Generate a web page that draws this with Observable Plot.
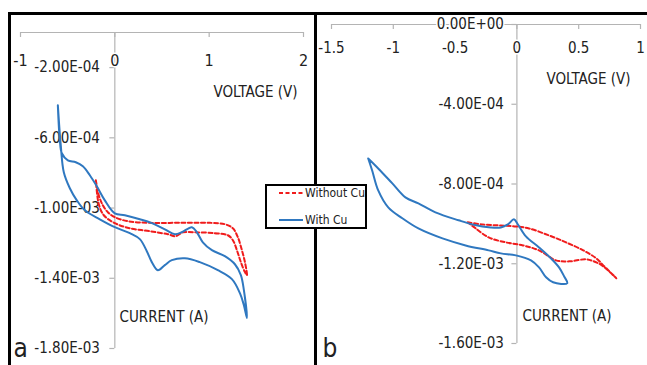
<!DOCTYPE html>
<html><head><meta charset="utf-8">
<script src="https://cdn.jsdelivr.net/npm/d3@7"></script>
<script src="https://cdn.jsdelivr.net/npm/@observablehq/plot@0.6"></script>
<style>
html,body{margin:0;padding:0;background:#fff;}
#fig{position:relative;width:647px;height:365px;overflow:hidden;background:#fff;}
#frame{position:absolute;left:8px;top:12px;width:700px;height:400px;border-left:3px solid #000;border-top:3px solid #000;box-sizing:border-box;}
#divider{position:absolute;left:314px;top:12px;width:3px;height:400px;background:#000;}
.panel{position:absolute;top:12px;}
#legend{position:absolute;left:265px;top:184px;width:102px;height:45px;border:2px solid #000;background:#fff;box-sizing:border-box;}
</style>
</head><body>
<div id="fig">
  <div id="frame"></div>
  <div id="divider"></div>
  <div id="pa" class="panel" style="left:8px"></div>
  <div id="pb" class="panel" style="left:316px"></div>
  <div id="legend"></div>
</div>
<script>
const FONT = '"Liberation Sans Narrow","DejaVu Sans Condensed","Liberation Sans",sans-serif';
const AXIS = "#b4b4b4";
const TEXT = "#222";
const RED = "#f01c1c";
const BLUE = "#2f78c0";

const seriesNames = ["Without Cu", "With Cu"];
const seriesColors = [RED, BLUE];
const panelLetters = ["a", "b"];
const xTitle = "VOLTAGE (V)";
const yTitle = "CURRENT (A)";

// Panel a axes
const aXTicks = [-1, 0, 1, 2];
const aXLabels = ["-1", "0", "1", "2"];
const aYTicks = [-2e-4, -6e-4, -1e-3, -1.4e-3, -1.8e-3];
const aYLabels = ["-2.00E-04", "-6.00E-04", "-1.00E-03", "-1.40E-03", "-1.80E-03"];

// Panel b axes
const bXTicks = [-1.5, -1, -0.5, 0, 0.5, 1];
const bXLabels = ["-1.5", "-1", "-0.5", "0", "0.5", "1"];
const bYTicks = [0, -4e-4, -8e-4, -1.2e-3, -1.6e-3];
const bYLabels = ["0.00E+00", "-4.00E-04", "-8.00E-04", "-1.20E-03", "-1.60E-03"];

// Panel a, With Cu (voltage V, current A)
const aWithV = [-0.604,-0.583,-0.562,-0.498,-0.414,-0.339,-0.265,-0.191,-0.106,0,0.106,0.265,0.392,0.530,0.636,0.710,0.817,0.870,0.933,1.029,1.166,1.273,1.336,1.368,1.400,
  1.368,1.326,1.241,1.092,0.901,0.742,0.604,0.530,0.456,0.392,0.339,0.265,0.159,0,-0.159,-0.318,-0.403,-0.477,-0.541,-0.573,-0.604];
const aWithI = [-4.15e-4,-6.14e-4,-6.88e-4,-7.28e-4,-7.39e-4,-7.62e-4,-8.13e-4,-8.76e-4,-9.56e-4,-1.030e-3,-1.041e-3,-1.064e-3,-1.086e-3,-1.121e-3,-1.149e-3,-1.138e-3,-1.109e-3,-1.138e-3,-1.195e-3,-1.240e-3,-1.274e-3,-1.320e-3,-1.382e-3,-1.468e-3,-1.627e-3,
  -1.553e-3,-1.485e-3,-1.405e-3,-1.354e-3,-1.308e-3,-1.286e-3,-1.297e-3,-1.325e-3,-1.354e-3,-1.308e-3,-1.246e-3,-1.177e-3,-1.143e-3,-1.109e-3,-1.064e-3,-1.013e-3,-9.56e-4,-8.87e-4,-7.96e-4,-6.43e-4,-4.15e-4];

// Panel a, Without Cu
const aWithoutV = [-0.201,-0.170,-0.127,-0.074,0,0.138,0.371,0.689,1.007,1.166,1.251,1.304,1.347,1.379,1.400,
  1.379,1.336,1.294,1.251,1.198,1.060,0.848,0.721,0.647,0.562,0.371,0.159,0,-0.117,-0.170,-0.201];
const aWithoutI = [-8.42e-4,-9.27e-4,-9.84e-4,-1.024e-3,-1.052e-3,-1.075e-3,-1.084e-3,-1.084e-3,-1.084e-3,-1.092e-3,-1.115e-3,-1.166e-3,-1.240e-3,-1.308e-3,-1.382e-3,
  -1.365e-3,-1.308e-3,-1.240e-3,-1.183e-3,-1.155e-3,-1.143e-3,-1.138e-3,-1.138e-3,-1.160e-3,-1.149e-3,-1.132e-3,-1.115e-3,-1.086e-3,-1.041e-3,-9.78e-4,-8.42e-4];

// Panel b, With Cu
const bWithV = [-1.203,-1.122,-1.008,-0.902,-0.797,-0.659,-0.472,-0.358,-0.211,-0.130,-0.073,-0.024,0.008,0.073,0.179,0.276,0.341,0.382,0.407,
  0.293,0.236,0.179,0.114,-0.008,-0.130,-0.228,-0.415,-0.602,-0.797,-0.927,-1.041,-1.122,-1.171,-1.203];
const bWithI = [-6.72e-4,-7.22e-4,-7.97e-4,-8.67e-4,-8.97e-4,-9.42e-4,-9.82e-4,-1.003e-3,-1.018e-3,-1.018e-3,-1.003e-3,-9.77e-4,-1.003e-3,-1.063e-3,-1.118e-3,-1.173e-3,-1.218e-3,-1.263e-3,-1.298e-3,
  -1.293e-3,-1.268e-3,-1.218e-3,-1.183e-3,-1.158e-3,-1.148e-3,-1.133e-3,-1.108e-3,-1.073e-3,-1.023e-3,-9.72e-4,-9.17e-4,-8.32e-4,-7.32e-4,-6.72e-4];

// Panel b, Without Cu
const bWithoutV = [-0.398,-0.276,-0.130,-0.008,0.098,0.260,0.398,0.537,0.642,0.699,0.748,0.805,
  0.699,0.642,0.561,0.423,0.317,0.179,0.049,-0.089,-0.228,-0.333,-0.398];
const bWithoutI = [-9.92e-4,-1.003e-3,-1.008e-3,-1.013e-3,-1.023e-3,-1.058e-3,-1.093e-3,-1.133e-3,-1.173e-3,-1.208e-3,-1.238e-3,-1.273e-3,
  -1.213e-3,-1.193e-3,-1.178e-3,-1.188e-3,-1.183e-3,-1.133e-3,-1.108e-3,-1.093e-3,-1.068e-3,-1.023e-3,-9.92e-4];

const toRows = (V, I) => V.map((v, k) => ({v, i: I[k]}));

function makePanel(o) {
  const halo = {stroke: "white", strokeWidth: 3, fill: TEXT, fontFamily: FONT};
  const marks = [
    Plot.ruleY([0], {stroke: AXIS, strokeWidth: 1.2}),
    Plot.ruleX([0], {stroke: AXIS, strokeWidth: 1.2}),
    Plot.ruleX(o.xTicks, {x: d => d, y1: d => 0, y2: d => 0, insetBottom: -5, stroke: AXIS, strokeWidth: 1.2}),
    Plot.ruleY(o.yTicks, {y: d => d, x1: d => 0, x2: d => 0, insetLeft: -5, stroke: AXIS, strokeWidth: 1.2}),
    Plot.text(o.xTicks, {x: d => d, y: d => 0, text: (d, k) => o.xLabels[k], dy: o.xDy, fontSize: o.xFont, lineAnchor: "middle", ...halo}),
    Plot.text(o.yTicks, {x: d => 0, y: d => d, text: (d, k) => o.yLabels[k], dx: o.yDx, textAnchor: "end", fontSize: 15, lineAnchor: "middle", ...halo}),
    Plot.text([xTitle], {frameAnchor: "top-left", textAnchor: "start", lineAnchor: "middle", dx: o.xtDx, dy: o.xtDy, fontSize: 15, fill: TEXT, fontFamily: FONT}),
    Plot.text([yTitle], {frameAnchor: "top-left", textAnchor: "start", lineAnchor: "middle", dx: o.ytDx, dy: o.ytDy, fontSize: 15, fill: TEXT, fontFamily: FONT}),
    Plot.text([o.letter], {frameAnchor: "top-left", textAnchor: "start", lineAnchor: "middle", dx: o.lDx, dy: o.lDy, fontSize: 26, fill: TEXT, fontFamily: FONT}),
    Plot.line(o.without, {x: "v", y: "i", stroke: RED, strokeWidth: 2, strokeDasharray: "4,2.5", curve: "catmull-rom"}),
    Plot.line(o.withCu, {x: "v", y: "i", stroke: BLUE, strokeWidth: 2, curve: "catmull-rom"})
  ];
  return Plot.plot({
    width: o.width, height: o.height,
    marginLeft: o.ml, marginRight: o.mr, marginTop: o.mt, marginBottom: o.mb,
    x: {domain: o.xDomain, axis: null},
    y: {domain: o.yDomain, axis: null},
    style: {background: "none", overflow: "visible", fontFamily: FONT},
    marks
  });
}

document.getElementById("pa").appendChild(makePanel({
  width: 308, height: 353, ml: 12, mr: 13, mt: 20, mb: 17,
  xDomain: [-1, 2], yDomain: [-1.8e-3, 0],
  xTicks: aXTicks, xLabels: aXLabels, yTicks: aYTicks, yLabels: aYLabels,
  xDy: 28, xFont: 16, yDx: -15,
  xtDx: 193, xtDy: 60, ytDx: 99, ytDy: 285, lDx: -7, lDy: 316,
  letter: panelLetters[0],
  withCu: toRows(aWithV, aWithI), without: toRows(aWithoutV, aWithoutI)
}));

document.getElementById("pb").appendChild(makePanel({
  width: 331, height: 353, ml: 15, mr: 7, mt: 12, mb: 22,
  xDomain: [-1.5, 1], yDomain: [-1.6e-3, 0],
  xTicks: bXTicks, xLabels: bXLabels, yTicks: bYTicks, yLabels: bYLabels,
  xDy: 24, xFont: 15, yDx: -13,
  xtDx: 215, xtDy: 55, ytDx: 191, ytDy: 292, lDx: -9, lDy: 324,
  letter: panelLetters[1],
  withCu: toRows(bWithV, bWithI), without: toRows(bWithoutV, bWithoutI)
}));

// Legend
const lg = d3.select("#legend").append("svg").attr("width", 98).attr("height", 41).style("display", "block");
const rowsY = [7, 34];
seriesNames.forEach((name, k) => {
  lg.append("line").attr("x1", 12).attr("x2", 36).attr("y1", rowsY[k]).attr("y2", rowsY[k])
    .attr("stroke", seriesColors[k]).attr("stroke-width", 2)
    .attr("stroke-dasharray", k === 0 ? "4,2.5" : null);
  lg.append("text").attr("x", 38).attr("y", rowsY[k]).attr("dy", "0.35em")
    .attr("font-family", FONT).attr("font-size", 12).attr("fill", TEXT).text(name);
});
</script>
</body></html>
